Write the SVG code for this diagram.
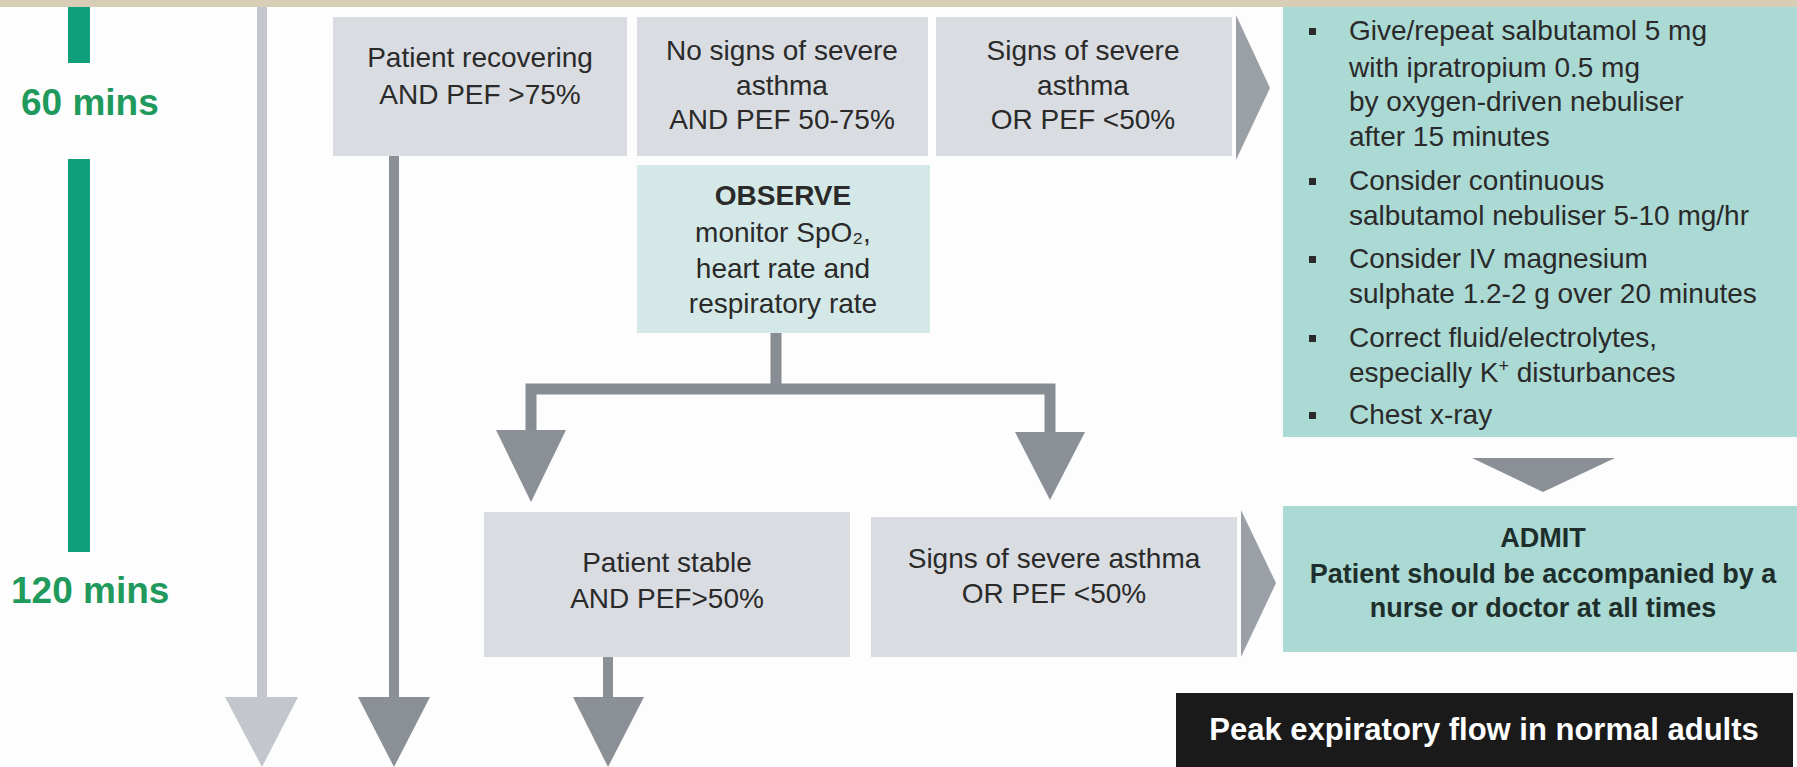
<svg xmlns="http://www.w3.org/2000/svg" width="1797" height="767" viewBox="0 0 1797 767">
<style>
text{font-family:"Liberation Sans",Arial,sans-serif;}
.g{fill:#d9dce1;}
.t{fill:#abd9d4;}
.lt{fill:#d4e8e8;}
.bx{font-size:28px;fill:#2a2a2a;text-anchor:middle;}
.bl{font-size:28px;fill:#2a2a2a;}
.ad{font-size:27px;fill:#1d2e2b;text-anchor:middle;font-weight:bold;}
.time{font-size:37px;fill:#1f9a5c;font-weight:bold;}
.dk{fill:#8a9096;}
.lg{fill:#c3c7cd;}
.ch{fill:#9aa0a6;}
</style>
<rect x="0" y="0" width="1797" height="767" fill="#fdfdfd"/>
<rect x="0" y="0" width="1797" height="7" fill="#d8ceb6"/>

<g id="timeline">
<rect x="68" y="7" width="22" height="56" fill="#10a07c"/>
<rect x="68" y="159" width="22" height="393" fill="#10a07c"/>
<text class="time" x="21" y="115">60 mins</text>
<text class="time" x="11" y="603">120 mins</text>
</g>

<g id="connectors">
<rect class="lg" x="257" y="7" width="10" height="692"/>
<polygon class="lg" points="225,697 298,697 262,767"/>
<rect class="dk" x="389" y="156" width="10" height="543"/>
<polygon class="dk" points="358,697 430,697 394,767"/>
<rect class="dk" x="603" y="657" width="10" height="42"/>
<polygon class="dk" points="573,697 644,697 608,767"/>
<path d="M531,432 V389 H1050 V434 M776,333 V389" fill="none" stroke="#878d93" stroke-width="11"/>
<polygon class="dk" points="496,430 566,430 531,502"/>
<polygon class="dk" points="1015,432 1085,432 1050,500"/>
<polygon class="ch" points="1236,15 1270,88 1236,160"/>
<polygon class="ch" points="1241,510 1276,583 1241,657"/>
<polygon class="dk" points="1472,458 1615,458 1543,492"/>
</g>

<g id="recovering">
<rect class="g" x="333" y="17" width="294" height="139"/>
<text class="bx" x="480" y="67">Patient recovering</text>
<text class="bx" x="480" y="104">AND PEF &gt;75%</text>
</g>

<g id="no-severe">
<rect class="g" x="637" y="17" width="291" height="139"/>
<text class="bx" x="782" y="60">No signs of severe</text>
<text class="bx" x="782" y="95">asthma</text>
<text class="bx" x="782" y="129">AND PEF 50-75%</text>
</g>

<g id="severe">
<rect class="g" x="936" y="17" width="296" height="139"/>
<text class="bx" x="1083" y="60">Signs of severe</text>
<text class="bx" x="1083" y="95">asthma</text>
<text class="bx" x="1083" y="129">OR PEF &lt;50%</text>
</g>

<g id="observe">
<rect class="lt" x="637" y="165" width="293" height="168"/>
<text class="bx" x="783" y="205" font-weight="bold">OBSERVE</text>
<text class="bx" x="783" y="242">monitor SpO₂,</text>
<text class="bx" x="783" y="278">heart rate and</text>
<text class="bx" x="783" y="313">respiratory rate</text>
</g>

<g id="treatment">
<rect class="t" x="1283" y="7" width="514" height="430"/>
<g fill="#2a2a2a">
<rect x="1309" y="28" width="7" height="7"/>
<rect x="1309" y="178" width="7" height="7"/>
<rect x="1309" y="256" width="7" height="7"/>
<rect x="1309" y="335" width="7" height="7"/>
<rect x="1309" y="412" width="7" height="7"/>
</g>
<text class="bl" x="1349" y="40">Give/repeat salbutamol 5 mg</text>
<text class="bl" x="1349" y="77">with ipratropium 0.5 mg</text>
<text class="bl" x="1349" y="111">by oxygen-driven nebuliser</text>
<text class="bl" x="1349" y="146">after 15 minutes</text>
<text class="bl" x="1349" y="190">Consider continuous</text>
<text class="bl" x="1349" y="225">salbutamol nebuliser 5-10 mg/hr</text>
<text class="bl" x="1349" y="268">Consider IV magnesium</text>
<text class="bl" x="1349" y="303">sulphate 1.2-2 g over 20 minutes</text>
<text class="bl" x="1349" y="347">Correct fluid/electrolytes,</text>
<text class="bl" x="1349" y="382">especially K<tspan font-size="18" dy="-10">+</tspan><tspan dy="10"> disturbances</tspan></text>
<text class="bl" x="1349" y="424">Chest x-ray</text>
</g>

<g id="stable">
<rect class="g" x="484" y="512" width="366" height="145"/>
<text class="bx" x="667" y="572">Patient stable</text>
<text class="bx" x="667" y="608">AND PEF&gt;50%</text>
</g>

<g id="severe-2">
<rect class="g" x="871" y="517" width="366" height="140"/>
<text class="bx" x="1054" y="568">Signs of severe asthma</text>
<text class="bx" x="1054" y="603">OR PEF &lt;50%</text>
</g>

<g id="admit">
<rect class="t" x="1283" y="506" width="514" height="146"/>
<text class="ad" x="1543" y="547">ADMIT</text>
<text class="ad" x="1543" y="583">Patient should be accompanied by a</text>
<text class="ad" x="1543" y="617">nurse or doctor at all times</text>
</g>

<g id="pef-title">
<rect x="1176" y="693" width="617" height="74" fill="#1a1a1a"/>
<text x="1484" y="740" font-size="31" font-weight="bold" fill="#ffffff" text-anchor="middle">Peak expiratory flow in normal adults</text>
</g>
</svg>
